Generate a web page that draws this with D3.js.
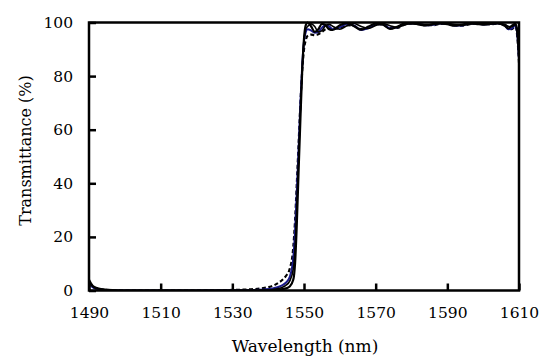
<!DOCTYPE html>
<html>
<head>
<meta charset="utf-8">
<script src="https://cdn.jsdelivr.net/npm/d3@7"></script>
<style>
  body { margin: 0; background: #fff; }
</style>
</head>
<body>
<svg id="chart" width="542" height="360"></svg>
<script>
// wavelength grid (nm)
const wavelength = [1490, 1491, 1492, 1494, 1497, 1500, 1510, 1520, 1530, 1536, 1539, 1541, 1542, 1543, 1544, 1545, 1546, 1547, 1547.5, 1548, 1548.5, 1549, 1549.5, 1550, 1550.5, 1551, 1552, 1553, 1554, 1555, 1556, 1557, 1558, 1560, 1562, 1564, 1566, 1568, 1570, 1572, 1574, 1576, 1578, 1580, 1582, 1584, 1586, 1588, 1590, 1592, 1594, 1596, 1598, 1600, 1602, 1604, 1606, 1607, 1608, 1609, 1609.5, 1610];

// transmittance (%) per curve
const solidA = [4, 1.8, 1, 0.4, 0.1, 0, 0, 0, 0, 0, 0, 0.1, 0.2, 0.3, 0.5, 0.8, 1.5, 4, 10, 25, 45, 64, 82, 94, 99, 100, 98.5, 96.5, 97.5, 99.5, 99, 97.5, 97.2, 99, 99.8, 98.6, 97.3, 98.5, 99.6, 99.2, 97.6, 98.4, 99.6, 99.7, 99.3, 98.9, 99.4, 99.7, 99.4, 98.8, 99.1, 99.7, 99.5, 99.2, 99.6, 99.7, 98.8, 97.8, 98.8, 99.5, 97, 88];
const blueLine = [2.5, 1.2, 0.6, 0.2, 0, 0, 0, 0, 0.1, 0.2, 0.4, 0.7, 1, 1.4, 2, 3, 5, 12, 22, 37, 53, 70, 84, 93, 96.5, 97.5, 97, 96.2, 96.5, 98, 99, 98.6, 97.5, 98.2, 99.5, 98.8, 97.2, 98, 99.4, 99.3, 97.8, 98.2, 99.4, 99.7, 99.4, 99, 99.2, 99.6, 99.5, 98.9, 98.9, 99.5, 99.6, 99.3, 99.4, 99.7, 99, 97.5, 97.8, 99, 96, 86];
const dashed = [3, 1.4, 0.8, 0.3, 0.1, 0, 0, 0, 0.2, 0.5, 1, 1.6, 2.2, 3, 4, 5.5, 8, 16, 26, 40, 55, 70, 82, 90, 93.5, 95, 95.5, 95.3, 95.6, 96.5, 97.5, 97.8, 97.5, 98, 99, 98.7, 97.5, 98, 99.2, 99.3, 98, 98, 99.2, 99.6, 99.4, 99, 99, 99.5, 99.6, 99, 98.8, 99.3, 99.6, 99.4, 99.3, 99.6, 99.2, 98, 97.5, 98.5, 95, 85];
const solidB = [3.5, 1.5, 0.8, 0.3, 0.1, 0, 0, 0, 0, 0, 0.1, 0.3, 0.5, 0.8, 1.2, 2, 3.5, 8, 16, 32, 50, 68, 83, 93, 97.5, 98.5, 99.5, 98.5, 96.5, 97, 98.8, 99.3, 98.6, 97.5, 98.8, 99.6, 98.5, 97.8, 98.9, 99.6, 98.8, 98.2, 99.1, 99.6, 99.5, 99.2, 99.3, 99.6, 99.6, 99.2, 99, 99.4, 99.6, 99.5, 99.5, 99.6, 99.3, 98.6, 98.4, 99.2, 96.5, 87];

const xTicks = [1490, 1510, 1530, 1550, 1570, 1590, 1610];
const yTicks = [0, 20, 40, 60, 80, 100];

const serif = 'DejaVu Serif';
const plotLeft = 89, plotRight = 519, plotTop = 22.5, plotBottom = 290.5;
const svg = d3.select('#chart');

const x = d3.scaleLinear().domain([1490, 1610]).range([plotLeft, plotRight]);
const y = d3.scaleLinear().domain([0, 100]).range([plotBottom, plotTop]);

svg.append('defs').append('clipPath').attr('id', 'plot')
  .append('rect').attr('x', plotLeft).attr('y', plotTop - 2)
  .attr('width', plotRight - plotLeft).attr('height', plotBottom - plotTop + 2);

const line = d3.line()
  .x((d, i) => x(wavelength[i]))
  .y(d => y(d))
  .curve(d3.curveMonotoneX);

const curves = svg.append('g').attr('clip-path', 'url(#plot)');

curves.append('path').datum(dashed)
  .attr('fill', 'none').attr('stroke', '#000').attr('stroke-width', 2.2)
  .attr('stroke-dasharray', '4,2.5').attr('d', line);

curves.append('path').datum(blueLine)
  .attr('fill', 'none').attr('stroke', '#1a1a8c').attr('stroke-width', 2).attr('d', line);

curves.append('path').datum(solidB)
  .attr('fill', 'none').attr('stroke', '#000').attr('stroke-width', 1.6).attr('d', line);

curves.append('path').datum(solidA)
  .attr('fill', 'none').attr('stroke', '#000').attr('stroke-width', 2.2).attr('d', line);

// frame
svg.append('rect')
  .attr('x', plotLeft).attr('y', plotTop)
  .attr('width', plotRight - plotLeft).attr('height', plotBottom - plotTop)
  .attr('fill', 'none').attr('stroke', '#000').attr('stroke-width', 2.5);

// x axis (ticks inward)
const xAxis = svg.append('g').attr('transform', `translate(0,${plotBottom})`)
  .call(d3.axisBottom(x).tickValues(xTicks).tickSize(-7).tickPadding(16).tickFormat(d3.format('d')));
xAxis.attr('font-family', serif).attr('font-size', 15.5);
xAxis.select('.domain').remove();
xAxis.selectAll('line').attr('stroke', '#000').attr('stroke-width', 2.5);
xAxis.selectAll('text').attr('fill', '#000');

// y axis (ticks inward)
const yAxis = svg.append('g').attr('transform', `translate(${plotLeft},0)`)
  .call(d3.axisLeft(y).tickValues(yTicks).tickSize(-7).tickPadding(16));
yAxis.attr('font-family', serif).attr('font-size', 15.5);
yAxis.select('.domain').remove();
yAxis.selectAll('line').attr('stroke', '#000').attr('stroke-width', 2.5);
yAxis.selectAll('text').attr('fill', '#000');

svg.append('text')
  .attr('x', 305).attr('y', 352)
  .attr('text-anchor', 'middle')
  .attr('font-family', serif).attr('font-size', 17)
  .text('Wavelength (nm)');

svg.append('text')
  .attr('transform', `translate(31,${(plotTop + plotBottom) / 2 - 6}) rotate(-90)`)
  .attr('text-anchor', 'middle')
  .attr('font-family', serif).attr('font-size', 16)
  .text('Transmittance (%)');
</script>
</body>
</html>
